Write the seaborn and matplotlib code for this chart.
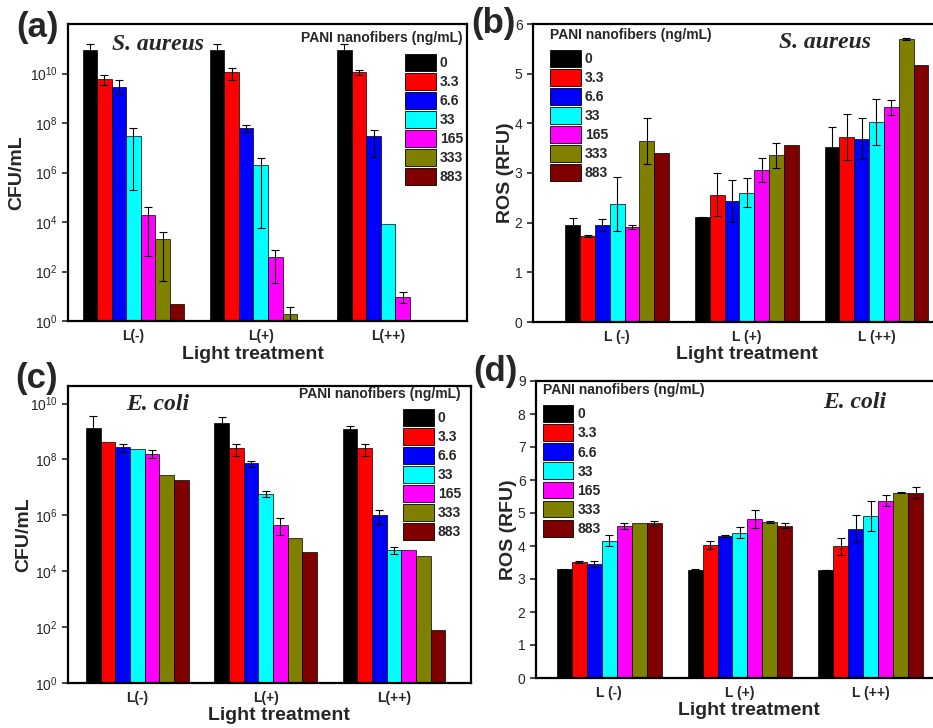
import numpy as np
import pandas as pd
import matplotlib
matplotlib.use("Agg")
import matplotlib.pyplot as plt
import seaborn as sns

nan = np.nan

# ---------------- data ----------------
conc = ["0", "3.3", "6.6", "33", "165", "333", "883"]
colors = ["#000000", "#ff0000", "#0000ff", "#00ffff", "#ff00ff", "#808000", "#800000"]
treat_cfu = ["L(-)", "L(+)", "L(++)"]
treat_ros = ["L (-)", "L (+)", "L (++)"]

# (a) S. aureus CFU/mL  (rows: L(-), L(+), L(++))
sa_cfu = [[8.9e10, 6.0e9, 2.75e9, 2.95e7, 1.9e4, 2.1e3, 4.7],
          [8.9e10, 1.15e10, 6.3e7, 2.1e6, 400, 2.0, nan],
          [8.9e10, 1.15e10, 2.9e7, 8.3e3, 9.5, nan, nan]]
sa_cfu_hi = [[1.5e11, 8.5e9, 5.5e9, 6.0e7, 4.1e4, 4.1e3, nan],
             [1.5e11, 1.74e10, 8.1e7, 4.0e6, 760, 3.8, nan],
             [1.5e11, 1.4e10, 5.2e7, nan, 15.5, nan, nan]]
sa_cfu_lo = [[2.8e10, 3.5e9, 1.5e9, 1.95e5, 440, 42, nan],
             [2.8e10, 5.6e9, 4.5e7, 5.5e3, 35, 0.2, nan],
             [2.8e10, 9.0e9, 4.4e6, nan, 5.1, nan, nan]]

# (b) S. aureus ROS (RFU)
sa_ros = [[1.96, 1.74, 1.96, 2.37, 1.92, 3.64, 3.40],
          [2.11, 2.56, 2.44, 2.60, 3.06, 3.36, 3.57],
          [3.53, 3.73, 3.69, 4.03, 4.32, 5.70, 5.17]]
sa_ros_err = [[0.14, 0.02, 0.12, 0.54, 0.04, 0.46, 0.0],
              [0.01, 0.43, 0.42, 0.29, 0.25, 0.25, 0.0],
              [0.40, 0.46, 0.41, 0.46, 0.15, 0.02, 0.0]]

# (c) E. coli CFU/mL
ec_cfu = [[1.3e9, 4.3e8, 2.8e8, 2.3e8, 1.6e8, 2.7e7, 1.8e7],
          [2.1e9, 2.5e8, 7.2e7, 5.8e6, 4.5e5, 1.5e5, 5.0e4],
          [1.26e9, 2.5e8, 1.05e6, 5.8e4, 5.8e4, 3.5e4, 80]]
ec_cfu_hi = [[3.6e9, nan, 3.7e8, nan, 2.1e8, nan, nan],
             [3.2e9, 3.7e8, 8.9e7, 7.2e6, 8.3e5, nan, nan],
             [1.6e9, 3.7e8, 1.6e6, 7.6e4, nan, nan, nan]]
ec_cfu_lo = [[5.0e8, nan, 1.9e8, nan, 1.1e8, nan, nan],
             [1.0e9, 1.3e8, 5.5e7, 4.4e6, 2.0e5, nan, nan],
             [0.9e9, 1.3e8, 5.0e5, 4.0e4, nan, nan, nan]]

# (d) E. coli ROS (RFU)
ec_ros = [[3.29, 3.52, 3.46, 4.16, 4.61, 4.69, 4.69],
          [3.28, 4.03, 4.30, 4.40, 4.82, 4.74, 4.62],
          [3.27, 3.99, 4.53, 4.91, 5.37, 5.62, 5.62]]
ec_ros_err = [[0.02, 0.03, 0.10, 0.16, 0.08, 0.0, 0.07],
              [0.01, 0.11, 0.03, 0.17, 0.27, 0.03, 0.07],
              [0.01, 0.26, 0.41, 0.46, 0.17, 0.01, 0.18]]

legend_title = "PANI nanofibers (ng/mL)"

# ---------------- style ----------------
sns.set_style("ticks")
plt.rcParams["font.family"] = ["Liberation Sans", "DejaVu Sans"]
plt.rcParams["mathtext.fontset"] = "custom"
plt.rcParams["mathtext.rm"] = "Liberation Sans"
plt.rcParams["mathtext.it"] = "Liberation Sans:italic"
plt.rcParams["mathtext.bf"] = "Liberation Sans:bold"

W, H = 933, 728
fig = plt.figure(figsize=(W / 100, H / 100), dpi=100)


def px_axes(l, t, r, b):
    return fig.add_axes([l / W, 1 - b / H, (r - l) / W, (b - t) / H])


def long_df(treats, vals):
    rows = []
    for t, row in zip(treats, vals):
        for c, v in zip(conc, row):
            if not np.isnan(v):
                rows.append({"treat": t, "conc": c, "val": v})
    return pd.DataFrame(rows)


def draw_bars(ax, treats, vals):
    df = long_df(treats, vals)
    sns.barplot(data=df, x="treat", y="val", hue="conc", order=treats,
                hue_order=conc, palette=colors, saturation=1, errorbar=None,
                width=0.8, edgecolor="black", linewidth=0.5, ax=ax, legend=True)


def add_errors(ax, lo_tab, hi_tab):
    conts = list(ax.containers)
    for j, cont in enumerate(conts):
        for bar in cont:
            cx = bar.get_x() + bar.get_width() / 2
            h = bar.get_height()
            if not np.isfinite(h):
                continue
            i = int(round(cx))
            lo, hi = lo_tab[i][j], hi_tab[i][j]
            if np.isnan(lo) or np.isnan(hi) or hi - lo <= 0:
                continue
            ax.errorbar(cx, h, yerr=[[h - lo], [hi - h]], fmt="none",
                        ecolor="black", elinewidth=0.8, capsize=3,
                        capthick=0.8, zorder=5)


def style_axes(ax, xlim):
    ax.set_xlim(*xlim)
    for s in ax.spines.values():
        s.set_visible(True)
        s.set_linewidth(1.6)
        s.set_color("black")
    ax.tick_params(axis="x", length=0, labelsize=10, pad=6)
    ax.tick_params(axis="y", length=4, width=1.2, labelsize=10, direction="out")
    for lab in ax.get_xticklabels():
        lab.set_fontweight("bold")


def legend(ax, loc, anchor, align):
    sns.move_legend(ax, loc, bbox_to_anchor=anchor, title=legend_title,
                    frameon=False, fontsize=10, handlelength=2.2,
                    handleheight=1.5, labelspacing=0.15, handletextpad=0.3,
                    borderpad=0, borderaxespad=0, alignment=align,
                    title_fontproperties={"weight": "bold", "size": 10})
    leg = ax.get_legend()
    leg._legend_box.sep = 6
    for t in leg.get_texts():
        t.set_fontweight("bold")
    for h in leg.legend_handles:
        h.set_edgecolor("black")
        h.set_linewidth(0.6)


label_kw = dict(fontsize=14, fontweight="bold")

# ---------- (a) ----------
axa = px_axes(68, 24, 467, 321)
draw_bars(axa, treat_cfu, sa_cfu)
axa.set_yscale("log")
add_errors(axa, sa_cfu_lo, sa_cfu_hi)
axa.set_ylim(1, 1e12)
axa.set_yticks([1e0, 1e2, 1e4, 1e6, 1e8, 1e10])
axa.minorticks_off()
style_axes(axa, (-0.514, 2.62))
axa.set_xlabel("Light treatment", **label_kw)
axa.set_ylabel("CFU/mL", **label_kw)
axa.xaxis.set_label_coords(0.464, -0.085)
axa.yaxis.set_label_coords(-0.108, 0.5)
legend(axa, "upper right", (0.99, 0.975), "right")

# ---------- (b) ----------
axb = px_axes(533, 24, 940, 322)
draw_bars(axb, treat_ros, sa_ros)
lo_b = [[v - e for v, e in zip(r, er)] for r, er in zip(sa_ros, sa_ros_err)]
hi_b = [[v + e for v, e in zip(r, er)] for r, er in zip(sa_ros, sa_ros_err)]
add_errors(axb, lo_b, hi_b)
axb.set_ylim(0, 6)
axb.set_yticks(range(0, 7))
style_axes(axb, (-0.65, 2.49))
axb.set_xlabel("Light treatment", **label_kw)
axb.set_ylabel("ROS (RFU)", **label_kw)
axb.xaxis.set_label_coords(0.526, -0.082)
axb.yaxis.set_label_coords(-0.046, 0.5)
legend(axb, "upper left", (0.042, 0.987), "left")

# ---------- (c) ----------
axc = px_axes(68, 386, 471, 683)
draw_bars(axc, treat_cfu, ec_cfu)
axc.set_yscale("log")
add_errors(axc, ec_cfu_lo, ec_cfu_hi)
axc.set_ylim(1, 10 ** 10.63)
axc.set_yticks([1e0, 1e2, 1e4, 1e6, 1e8, 1e10])
axc.minorticks_off()
style_axes(axc, (-0.54, 2.60))
axc.set_xlabel("Light treatment", **label_kw)
axc.set_ylabel("CFU/mL", **label_kw)
axc.xaxis.set_label_coords(0.524, -0.08)
axc.yaxis.set_label_coords(-0.088, 0.5)
legend(axc, "upper right", (0.975, 0.997), "right")

# ---------- (d) ----------
axd = px_axes(536, 381, 940, 678)
draw_bars(axd, treat_ros, ec_ros)
lo_d = [[v - e for v, e in zip(r, er)] for r, er in zip(ec_ros, ec_ros_err)]
hi_d = [[v + e for v, e in zip(r, er)] for r, er in zip(ec_ros, ec_ros_err)]
add_errors(axd, lo_d, hi_d)
axd.set_ylim(0, 9)
axd.set_yticks(range(0, 10))
style_axes(axd, (-0.56, 2.53))
axd.set_xlabel("Light treatment", **label_kw)
axd.set_ylabel("ROS (RFU)", **label_kw)
axd.xaxis.set_label_coords(0.528, -0.08)
axd.yaxis.set_label_coords(-0.048, 0.5)
legend(axd, "upper left", (0.017, 0.993), "left")


# ---------- texts ----------
def ftxt(x, y, s, **kw):
    fig.text(x / W, 1 - y / H, s, ha="center", va="center", **kw)


panel_kw = dict(fontsize=25, fontweight="bold")
ftxt(37, 27, "(a)", **panel_kw)
ftxt(493, 24, "(b)", **panel_kw)
ftxt(37, 378, "(c)", **panel_kw)
ftxt(495, 372, "(d)", **panel_kw)

sp_kw = dict(fontsize=17, fontweight="bold", fontstyle="italic",
             family=["Liberation Serif", "DejaVu Serif"])
ftxt(158, 45, "S. aureus", **sp_kw)
ftxt(825, 43, "S. aureus", **sp_kw)
ftxt(158, 405, "E. coli", **sp_kw)
ftxt(855, 403, "E. coli", **sp_kw)

fig.savefig("out.png", dpi=100)
